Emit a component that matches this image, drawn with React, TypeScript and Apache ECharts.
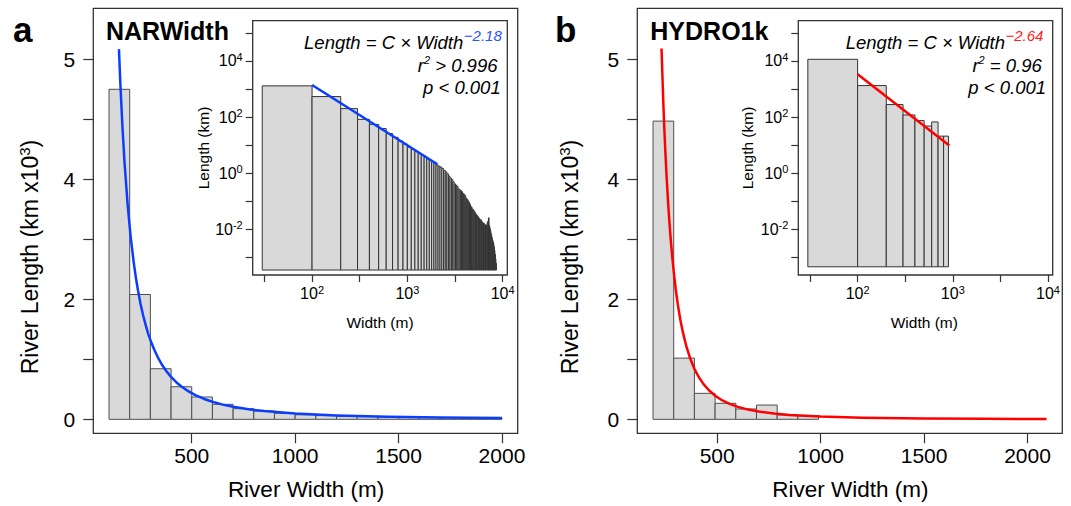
import React, { useEffect, useRef } from "react";
import * as echarts from "echarts";

const FONT = '"Liberation Sans", Arial, Helvetica, sans-serif';

// ---------------- Panel a : NARWidth ----------------
// main histogram: 100 m bins from 100 m; heights in axis units (km x10^3)
const mainABinStartM = 100;
const mainABinStepM = 100;
const mainALength = [5.5, 2.08, 0.843, 0.543, 0.372, 0.25, 0.177, 0.138, 0.1, 0.075, 0.062, 0.052, 0.045, 0.038, 0.033, 0.029, 0.026, 0.023, 0.02];
const mainAFitWidth = [148, 155, 165, 175, 190, 205, 220, 230, 240, 252, 265, 280, 290, 305, 320, 340, 360, 380, 400, 425, 450, 480, 520, 560, 600, 650, 700, 775, 850, 1000, 1200, 1450, 1700, 2000];
const mainAFitLength = [6.17, 5.58, 4.87, 4.28, 3.58, 3.03, 2.6, 2.36, 2.15, 1.93, 1.73, 1.537, 1.42, 1.275, 1.15, 1.006, 0.888, 0.79, 0.706, 0.619, 0.547, 0.475, 0.399, 0.339, 0.292, 0.245, 0.209, 0.167, 0.137, 0.0958, 0.0644, 0.0426, 0.0301, 0.0212];

// ---------------- Panel b : HYDRO1k ----------------
const mainBBinStartM = 190;
const mainBBinStepM = 100;
const mainBLength = [4.97, 1.02, 0.433, 0.267, 0.172, 0.238, 0.072, 0.06];
const mainBFitWidth = [231, 240, 245, 250, 256, 262, 268, 275, 282, 290, 300, 310, 322, 335, 350, 370, 390, 410, 435, 460, 490, 520, 560, 600, 650, 700, 775, 850, 1000, 1200, 1500, 1800, 2092];
const mainBFitLength = [6.18, 5.25, 4.81, 4.43, 4.02, 3.66, 3.34, 3.02, 2.74, 2.46, 2.16, 1.91, 1.66, 1.44, 1.23, 1.01, 0.842, 0.71, 0.582, 0.484, 0.394, 0.326, 0.257, 0.207, 0.162, 0.129, 0.0953, 0.0724, 0.045, 0.0266, 0.0142, 0.0085, 0.0056];

// ---------------- Insets (log-log) ----------------
// first bin 30-100 m, then 100 m bins
const insetFirstEdgeM = 30;
const insetSecondEdgeM = 100;
const insetStepM = 100;
const insetALengthKm = [
  1290, 537, 200, 83, 55, 39, 26, 19, 14, 11,
  8.5, 7.1, 5.9, 5.0, 4.3, 3.7, 3.2, 2.9, 2.6, 2.3,
  2.0, 1.8, 1.66, 1.48, 1.26, 1.12, 0.95, 0.79, 0.68, 0.6,
  0.5, 0.42, 0.38, 0.34, 0.28, 0.26, 0.24, 0.22, 0.19, 0.18,
  0.16, 0.13, 0.12, 0.105, 0.093, 0.079, 0.066, 0.06, 0.052, 0.05,
  0.044, 0.04, 0.035, 0.033, 0.03, 0.028, 0.025, 0.024, 0.021, 0.022,
  0.019, 0.018, 0.016, 0.017, 0.014, 0.015, 0.013, 0.014, 0.0145, 0.018,
  0.02, 0.026, 0.014, 0.0115, 0.0095, 0.0075, 0.0062, 0.005, 0.0042, 0.0036,
  0.0031, 0.0024, 0.0018, 0.0013, 0.0009, 0.00063,
];
const insetBLengthKm = [11400, 1320, 279, 119, 75, 48, 67, 21, 21];
const insetABarBaseKm = 0.00036;
const insetBBarBaseKm = 0.00047;
const insetAFitWidth = [100, 2065];
const insetAFitLength = [1390, 2.09];
const insetBFitWidth = [100, 918];
const insetBFitLength = [3330, 9.7];

// ---------------- ticks ----------------
const mainXTicks = [500, 1000, 1500, 2000];
const mainYTicks = [0, 1, 2, 3, 4, 5, 6];
const mainYLabelAt = [0, 2, 4, 6];
const mainYLabelText = ["0", "2", "4", "5"];
const insetXTickExp = [1.5, 2, 2.5, 3, 3.5, 4];
const insetXLabelExp = [2, 3, 4];
const insetYTickExp = [-3, -2, -1, 0, 1, 2, 3, 4, 5];
const insetYLabelExp = [-2, 0, 2, 4];

// ---------------- layout ----------------
const boxA = { left: 93.3, top: 8.3, width: 424.4, height: 425 };
const boxB = { left: 637.3, top: 8.3, width: 425, height: 425 };
const inA = { left: 252.7, top: 20.7, width: 254.6, height: 254.3 };
const inB = { left: 798.3, top: 20.7, width: 254.4, height: 254.3 };
const BLUE = "#0a3dff";
const RED = "#ff0000";
const AXC = "#333";

function mainBins(start: number, step: number, vals: number[]) {
  return vals.map((v, i) => [start + i * step, start + (i + 1) * step, v]);
}
function insetBins(vals: number[]) {
  return vals.map((v, i) => {
    const x0 = i === 0 ? insetFirstEdgeM : insetSecondEdgeM + (i - 1) * insetStepM;
    const x1 = insetSecondEdgeM + i * insetStepM;
    return [Math.log10(x0), Math.log10(x1), Math.log10(v)];
  });
}
function pairs(xs: number[], ys: number[], log = false) {
  return xs.map((x, i) => (log ? [Math.log10(x), Math.log10(ys[i])] : [x, ys[i]]));
}

function histSeries(axis: number, data: number[][], base: number, stroke: string) {
  return {
    type: "custom",
    xAxisIndex: axis,
    yAxisIndex: axis,
    data,
    z: 2,
    silent: true,
    clip: false,
    encode: { x: [0, 1], y: 2 },
    renderItem: (_p: any, api: any) => {
      const p0 = api.coord([api.value(0), api.value(2)]);
      const p1 = api.coord([api.value(1), base]);
      return {
        type: "rect",
        shape: { x: p0[0], y: p0[1], width: p1[0] - p0[0], height: p1[1] - p0[1] },
        style: { fill: "#d9d9d9", stroke, lineWidth: 1 },
      };
    },
  };
}
function lineSeries(axis: number, data: number[][], color: string) {
  return {
    type: "line",
    xAxisIndex: axis,
    yAxisIndex: axis,
    data,
    z: 5,
    silent: true,
    symbol: "none",
    showSymbol: false,
    smooth: false,
    lineStyle: { color, width: 2.5, join: "round" },
  };
}

const tickStyle = { color: AXC, width: 1.2 };
const supRich = {
  n: { fontSize: 16, fontFamily: FONT, color: "#000", lineHeight: 19 },
  s: { fontSize: 11, fontFamily: FONT, color: "#000", lineHeight: 11, verticalAlign: "top" },
};
const noLine = { show: false, onZero: false };

function mainXAxis(grid: number, min: number, max: number) {
  return {
    type: "value", gridIndex: grid, min, max,
    axisLine: noLine, splitLine: { show: false },
    axisTick: { show: true, length: 10, customValues: mainXTicks, lineStyle: tickStyle },
    axisLabel: {
      customValues: mainXTicks, margin: 12, fontSize: 21, fontFamily: FONT, color: "#000",
      formatter: (v: number) => String(Math.round(v)),
    },
  };
}
function mainYAxis(grid: number) {
  return {
    type: "value", gridIndex: grid, min: -0.233, max: 6.85,
    axisLine: noLine, splitLine: { show: false },
    axisTick: { show: true, length: 10, customValues: mainYTicks, lineStyle: tickStyle },
    axisLabel: {
      customValues: mainYLabelAt, margin: 18, fontSize: 21, fontFamily: FONT, color: "#000",
      formatter: (v: number) => mainYLabelText[mainYLabelAt.indexOf(Math.round(v))] ?? "",
    },
  };
}
function insetXAxis(grid: number) {
  return {
    type: "value", gridIndex: grid, min: 1.377, max: 4.049,
    axisLine: noLine, splitLine: { show: false },
    axisTick: { show: true, length: 7, customValues: insetXTickExp, lineStyle: tickStyle },
    axisLabel: {
      customValues: insetXLabelExp, margin: 9,
      formatter: (v: number) => `{n|10}{s|${Math.round(v)}}`, rich: supRich,
    },
  };
}
function insetYAxis(grid: number) {
  return {
    type: "value", gridIndex: grid, min: -3.62, max: 5.43,
    axisLine: noLine, splitLine: { show: false },
    axisTick: { show: true, length: 7, customValues: insetYTickExp, lineStyle: tickStyle },
    axisLabel: {
      customValues: insetYLabelExp, margin: 10,
      formatter: (v: number) => `{n|10}{s|${Math.round(v)}}`, rich: supRich,
    },
  };
}

function txt(x: number, y: number, text: string, font: string, align = "left", fill = "#000", rotation = 0, rich?: any) {
  return {
    type: "text", x, y, rotation, silent: true, z: 10,
    style: { x: 0, y: 0, text, font, fill, align, verticalAlign: "middle", rich },
  };
}

function panelTexts(dx: number, yTitleX: number, title: string, exp: string, expColor: string, r2: string, eqEnd: number, r2End: number, pEnd: number) {
  const italic = `italic 18.5px ${FONT}`;
  const richR2 = {
    i: { fontSize: 18.5, fontStyle: "italic", fontFamily: FONT, color: "#000", lineHeight: 22 },
    s: { fontSize: 11, fontStyle: "italic", fontFamily: FONT, color: "#000", lineHeight: 11, verticalAlign: "top" },
  };
  const richAxis = {
    n: { fontSize: 23, fontFamily: FONT, color: "#000", lineHeight: 27 },
    s: { fontSize: 15, fontFamily: FONT, color: "#000", lineHeight: 15, verticalAlign: "top" },
  };
  return [
    txt(106 + dx, 30.5, title, `bold 25px ${FONT}`),
    txt(eqEnd, 42.7, "Length = C × Width", italic, "right"),
    txt(eqEnd + 0.5, 35.8, exp, `italic 15px ${FONT}`, "left", expColor),
    txt(r2End, 65.7, `{i|r}{s|2}{i|${r2}}`, italic, "right", "#000", 0, richR2),
    txt(pEnd, 87.7, "p < 0.001", italic, "right"),
    txt(306 + dx, 489.3, "River Width (m)", `22.5px ${FONT}`, "center"),
    txt(yTitleX, 257, "{n|River Length (km x10}{s|3}{n|)}", `23px ${FONT}`, "center", "#000", Math.PI / 2, richAxis),
    txt(203 + dx, 148, "Length (km)", `15.5px ${FONT}`, "center", "#000", Math.PI / 2),
    txt(380 + dx, 322, "Width (m)", `15.5px ${FONT}`, "center"),
  ];
}

export default function App() {
  const ref = useRef<HTMLDivElement>(null);
  useEffect(() => {
    if (!ref.current) return;
    const chart = echarts.init(ref.current, undefined, { renderer: "svg" });
    const gridBase = { show: true, borderColor: AXC, borderWidth: 1.3, containLabel: false };
    const option: any = {
      animation: false,
      backgroundColor: "#fff",
      textStyle: { fontFamily: FONT },
      grid: [
        { ...gridBase, ...boxA, backgroundColor: "transparent" },
        { ...gridBase, ...inA, backgroundColor: "#fff" },
        { ...gridBase, ...boxB, backgroundColor: "transparent" },
        { ...gridBase, ...inB, backgroundColor: "#fff" },
      ],
      xAxis: [mainXAxis(0, 24, 2076), insetXAxis(1), mainXAxis(2, 114, 2168), insetXAxis(3)],
      yAxis: [mainYAxis(0), insetYAxis(1), mainYAxis(2), insetYAxis(3)],
      series: [
        histSeries(0, mainBins(mainABinStartM, mainABinStepM, mainALength), 0, "#4f4f4f"),
        lineSeries(0, pairs(mainAFitWidth, mainAFitLength), BLUE),
        histSeries(1, insetBins(insetALengthKm), Math.log10(insetABarBaseKm), "#333"),
        lineSeries(1, pairs(insetAFitWidth, insetAFitLength, true), BLUE),
        histSeries(2, mainBins(mainBBinStartM, mainBBinStepM, mainBLength), 0, "#4f4f4f"),
        lineSeries(2, pairs(mainBFitWidth, mainBFitLength), RED),
        histSeries(3, insetBins(insetBLengthKm), Math.log10(insetBBarBaseKm), "#333"),
        lineSeries(3, pairs(insetBFitWidth, insetBFitLength, true), RED),
      ],
      graphic: {
        elements: [
          txt(13, 29, "a", `bold 35px ${FONT}`),
          txt(555, 29, "b", `bold 35px ${FONT}`),
          ...panelTexts(0, 30, "NARWidth", "−2.18", "#2a55ff", " > 0.996", 463.3, 497.5, 500.7),
          ...panelTexts(544.3, 570, "HYDRO1k", "−2.64", "#ff1a1a", " = 0.96", 1005, 1041.8, 1046),
        ],
      },
    };
    chart.setOption(option);
    return () => chart.dispose();
  }, []);
  return (
    <div
      ref={ref}
      style={{ position: "fixed", left: 0, top: 0, width: 1071, height: 506, background: "#fff" }}
    />
  );
}
